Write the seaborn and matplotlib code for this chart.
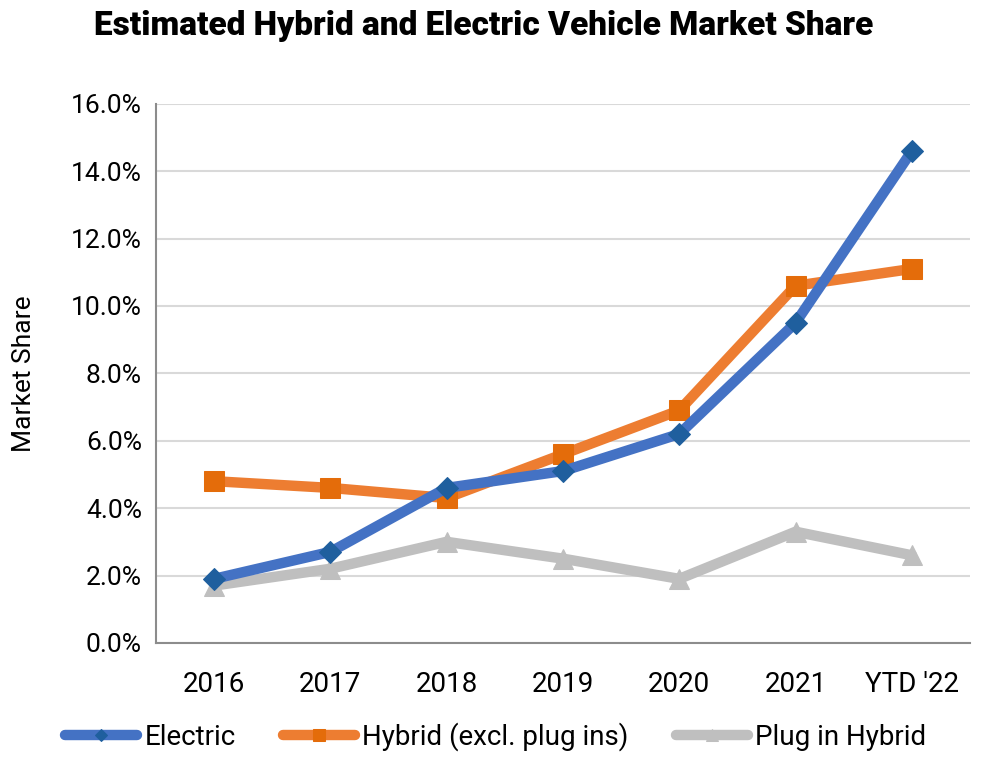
import matplotlib
matplotlib.use("Agg")
import matplotlib.pyplot as plt
import seaborn as sns
import pandas as pd
from matplotlib.ticker import FixedLocator, PercentFormatter

# --- Data ---
years = ["2016", "2017", "2018", "2019", "2020", "2021", "YTD '22"]
electric = [1.9, 2.7, 4.6, 5.1, 6.2, 9.5, 14.6]
hybrid = [4.8, 4.6, 4.3, 5.6, 6.9, 10.6, 11.1]
plug_in = [1.7, 2.2, 3.0, 2.5, 1.9, 3.3, 2.6]

df = pd.DataFrame({"Year": years, "Electric": electric,
                   "Hybrid (excl. plug ins)": hybrid, "Plug in Hybrid": plug_in})

sns.set_style("white")
plt.rcParams['font.family'] = ['Roboto', 'DejaVu Sans']
plt.rcParams['text.color'] = 'black'
plt.rcParams['axes.labelcolor'] = 'black'

fig = plt.figure(figsize=(9.99, 7.69), dpi=100)
ax = fig.add_axes([0.156, 0.164, 0.815, 0.701])

# --- Lines ---
styles = [
    ("Plug in Hybrid", "#BFBFBF", "^", "#BFBFBF", 15),
    ("Hybrid (excl. plug ins)", "#ED7D31", "s", "#E46C0A", 15),
    ("Electric", "#4472C4", "D", "#1F5F9E", 11),
]
for col, color, marker, mcolor, ms in styles:
    sns.lineplot(data=df, x="Year", y=col, ax=ax, sort=False, color=color,
                 linewidth=7.5, marker=marker, markersize=ms,
                 markerfacecolor=mcolor, markeredgecolor=mcolor, label=col)

# --- Axes styling ---
ax.set_ylim(0, 16)
ax.set_xlim(-0.5, 6.5)
ax.set_yticks(range(0, 17, 2))
ax.yaxis.set_major_formatter(PercentFormatter(decimals=1))
ax.grid(axis="y", color="#D9D9D9", linewidth=1.5)
ax.set_axisbelow(True)
for s in ["top", "right"]:
    ax.spines[s].set_visible(False)
for s in ["left", "bottom"]:
    ax.spines[s].set_color("#8C8C8C")
    ax.spines[s].set_linewidth(1.5)

ax.xaxis.set_minor_locator(FixedLocator([i - 0.5 for i in range(len(years) + 1)]))
ax.tick_params(axis="x", which="major", length=0, pad=20, labelsize=20, labelcolor="black")
ax.tick_params(axis="x", which="minor", length=8, width=1.5, color="#8C8C8C", direction="out")
ax.tick_params(axis="y", length=6, width=1.5, color="#8C8C8C", direction="out",
               labelsize=19, pad=4, labelcolor="black")

ax.set_xlabel("")
ax.set_ylabel("Market Share", fontsize=19)
ax.yaxis.set_label_coords(-0.147, 0.5)

fig.text(0.484, 0.966, "Estimated Hybrid and Electric Vehicle Market Share",
         ha="center", va="center", fontsize=24, fontweight="heavy")

# --- Legend ---
handles, labels = ax.get_legend_handles_labels()
order = [labels.index(n) for n in ["Electric", "Hybrid (excl. plug ins)", "Plug in Hybrid"]]
ax.legend_.remove()
fig.legend([handles[i] for i in order], [labels[i] for i in order],
           loc="center", bbox_to_anchor=(0.496, 0.042), ncol=3, frameon=False,
           fontsize=20, handlelength=2.6, handletextpad=0.25, columnspacing=1.7,
           markerscale=0.6)

fig.savefig("out.png", dpi=100)
